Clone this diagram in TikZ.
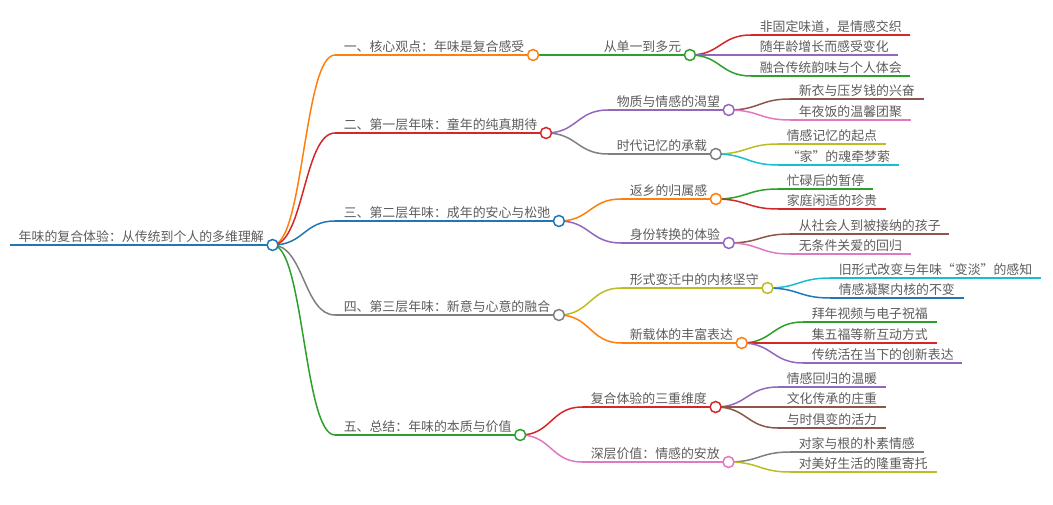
\documentclass[tikz,border=0pt]{standalone}
\usepackage{fontspec}
\newfontfamily\cjk{Noto Sans CJK SC}
\usetikzlibrary{calc}
\definecolor{m-orange}{HTML}{FF7F0E}
\definecolor{m-red}{HTML}{D62728}
\definecolor{m-blue}{HTML}{1F77B4}
\definecolor{m-gray}{HTML}{7F7F7F}
\definecolor{m-green}{HTML}{2CA02C}
\definecolor{m-purple}{HTML}{9467BD}
\definecolor{m-brown}{HTML}{8C564B}
\definecolor{m-pink}{HTML}{E377C2}
\definecolor{m-olive}{HTML}{BCBD22}
\definecolor{m-cyan}{HTML}{17BECF}
\definecolor{m-text}{HTML}{5C5C5C}
\begin{document}
\begin{tikzpicture}[x=1pt, y=-1pt, line width=1.5pt,
  lbl/.style={font=\cjk\fontsize{12.9}{14}\selectfont, text=m-text, inner xsep=8pt, inner ysep=3pt, text depth=0pt, anchor=south west},
  dot/.style={circle, draw=#1, fill=white, line width=1.5pt, inner sep=0pt, minimum size=11pt},
  link/.style={to path={let \p1=(\tikztostart), \p2=(\tikztotarget) in .. controls ({(\x1+\x2)/2},\y1) and ({(\x1+\x2)/2},\y2) .. (\tikztotarget)}}]
  \useasboundingbox (0,0) rectangle (1053,505);
  % root
  \node[lbl] (r) at (10,245) {年味的复合体验：从传统到个人的多维理解};
  \coordinate (r-c) at (r.south east);
  \draw[m-blue] (r.south west) -- (r-c);
  % first level
  \foreach \nm/\yy/\cl/\tx in {n1/55/m-orange/一、核心观点：年味是复合感受,
      n2/133/m-red/二、第一层年味：童年的纯真期待,
      n3/221/m-blue/三、第二层年味：成年的安心与松弛,
      n4/315/m-gray/四、第三层年味：新意与心意的融合,
      n5/435/m-green/五、总结：年味的本质与价值}{
    \node[lbl] (\nm) at (335,\yy) {\tx};
    \coordinate (\nm-c) at (\nm.south east);
    \draw[\cl] (\nm.south west) -- (\nm-c);
    \draw[\cl, link] (r-c) to (\nm.south west);
  }
  % second level
  \foreach \nm/\pa/\xx/\yy/\cl/\tx in {n1a/n1/595/55/m-green/从单一到多元,
      n2a/n2/608/110/m-purple/物质与情感的渴望,
      n2b/n2/608/154/m-gray/时代记忆的承载,
      n3a/n3/621/199/m-orange/返乡的归属感,
      n3b/n3/621/243/m-purple/身份转换的体验,
      n4a/n4/621/288/m-olive/形式变迁中的内核坚守,
      n4b/n4/621/343/m-orange/新载体的丰富表达,
      n5a/n5/582/407/m-red/复合体验的三重维度,
      n5b/n5/582/462/m-pink/深层价值：情感的安放}{
    \node[lbl] (\nm) at (\xx,\yy) {\tx};
    \coordinate (\nm-c) at (\nm.south east);
    \draw[\cl] (\nm.south west) -- (\nm-c);
    \draw[\cl, link] (\pa-c) to (\nm.south west);
  }
  % leaves
  \foreach \nm/\pa/\xx/\yy/\cl/\tx in {l1/n1a/751/35/m-red/非固定味道，是情感交织,
      l2/n1a/751/55/m-purple/随年龄增长而感受变化,
      l3/n1a/751/76/m-green/融合传统韵味与个人体会,
      l4/n2a/790/99/m-brown/新衣与压岁钱的兴奋,
      l5/n2a/790/120/m-pink/年夜饭的温馨团聚,
      l6/n2b/778/144/m-olive/情感记忆的起点,
      l7/n2b/778/165/m-cyan/“家”的魂牵梦萦,
      l8/n3a/778/189/m-green/忙碌后的暂停,
      l9/n3a/778/209/m-red/家庭闲适的珍贵,
      l10/n3b/790/234/m-brown/从社会人到被接纳的孩子,
      l11/n3b/790/254/m-pink/无条件关爱的回归,
      l12/n4a/830/278/m-cyan/旧形式改变与年味“变淡”的感知,
      l13/n4a/830/298/m-blue/情感凝聚内核的不变,
      l14/n4b/803/322/m-green/拜年视频与电子祝福,
      l15/n4b/803/343/m-red/集五福等新互动方式,
      l16/n4b/803/363/m-purple/传统活在当下的创新表达,
      l17/n5a/778/387/m-purple/情感回归的温暖,
      l18/n5a/778/407/m-brown/文化传承的庄重,
      l19/n5a/778/428/m-brown/与时俱变的活力,
      l20/n5b/790/452/m-gray/对家与根的朴素情感,
      l21/n5b/790/472/m-olive/对美好生活的隆重寄托}{
    \node[lbl] (\nm) at (\xx,\yy) {\tx};
    \draw[\cl] (\nm.south west) -- (\nm.south east);
    \draw[\cl, link] (\pa-c) to (\nm.south west);
  }
  % circles on top
  \foreach \nm/\cl in {r/m-blue, n1/m-orange, n2/m-red, n3/m-blue, n4/m-gray, n5/m-green,
      n1a/m-green, n2a/m-purple, n2b/m-gray, n3a/m-orange, n3b/m-purple,
      n4a/m-olive, n4b/m-orange, n5a/m-red, n5b/m-pink}
    \node[dot=\cl] at (\nm-c) {};
\end{tikzpicture}
\end{document}
